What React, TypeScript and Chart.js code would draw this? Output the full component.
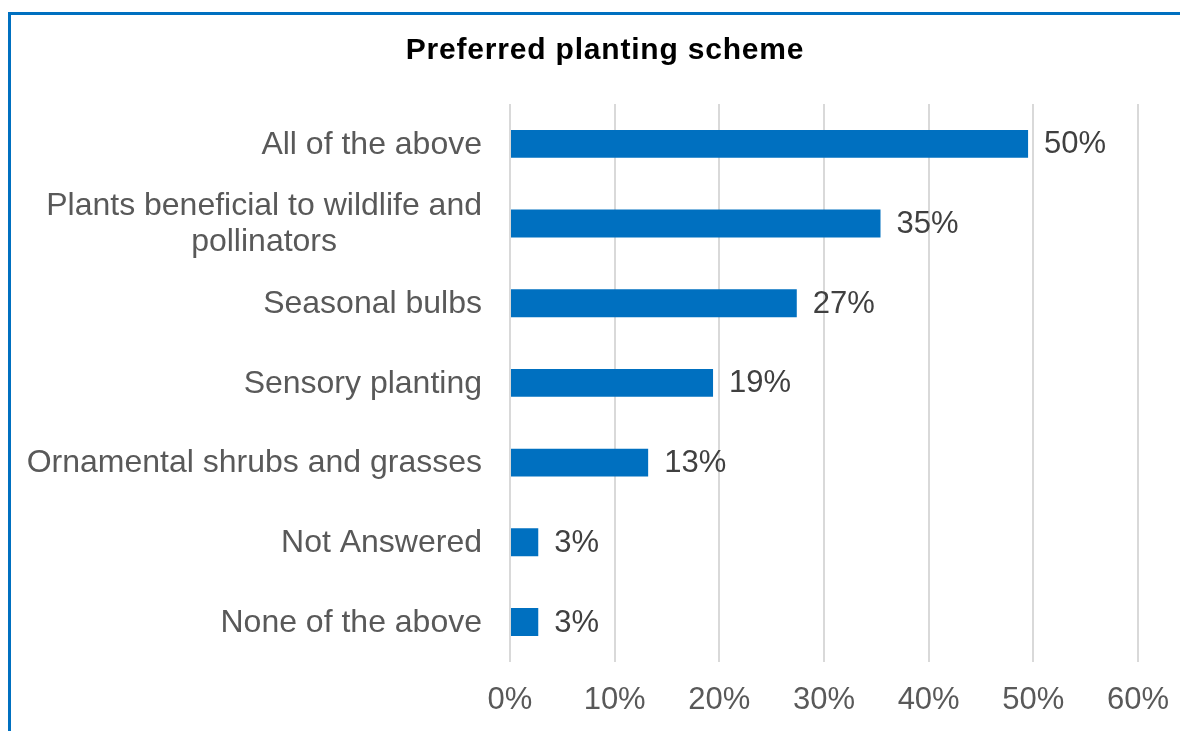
import React, { useEffect, useRef } from "react";
import { Chart, registerables } from "chart.js";

Chart.register(...registerables);

const titleText = "Preferred planting scheme";
const categories: string[][] = [
  ["All of the above"],
  ["Plants beneficial to wildlife and", "pollinators"],
  ["Seasonal bulbs"],
  ["Sensory planting"],
  ["Ornamental shrubs and grasses"],
  ["Not Answered"],
  ["None of the above"],
];
const values = [49.5, 35.4, 27.4, 19.4, 13.2, 2.7, 2.7];
const xTicks = [0, 10, 20, 30, 40, 50, 60];

const FONT = "Arial, 'Liberation Sans', sans-serif";
const BAR = "#0070C0";

const titlePlugin = {
  id: "customTitle",
  afterDraw(chart: any) {
    const ctx = chart.ctx;
    ctx.save();
    ctx.font = `bold 30px ${FONT}`;
    (ctx as any).letterSpacing = "0.8px";
    ctx.fillStyle = "#000000";
    ctx.textAlign = "center";
    ctx.textBaseline = "alphabetic";
    ctx.fillText(titleText, 594, 44);
    ctx.restore();
  },
};

const yLabelsPlugin = {
  id: "yLabels",
  afterDraw(chart: any) {
    const ctx = chart.ctx;
    const y = chart.scales.y;
    const right = chart.chartArea.left - 28;
    ctx.save();
    ctx.font = `32px ${FONT}`;
    ctx.fillStyle = "#595959";
    ctx.textBaseline = "middle";
    ctx.textAlign = "center";
    const lh = 36;
    categories.forEach((lines, i) => {
      const cy = y.getPixelForTick(i) + 1;
      const widest = Math.max(...lines.map((l) => ctx.measureText(l).width));
      const cx = right - widest / 2;
      const y0 = cy - ((lines.length - 1) * lh) / 2;
      lines.forEach((l, j) => ctx.fillText(l, cx, y0 + j * lh));
    });
    ctx.restore();
  },
};

const dataLabelPlugin = {
  id: "dataLabels",
  afterDatasetsDraw(chart: any) {
    const ctx = chart.ctx;
    const meta = chart.getDatasetMeta(0);
    ctx.save();
    ctx.font = `31px ${FONT}`;
    ctx.fillStyle = "#404040";
    ctx.textBaseline = "middle";
    ctx.textAlign = "left";
    meta.data.forEach((bar: any, i: number) => {
      ctx.fillText(Math.round(values[i]) + "%", bar.x + 16, bar.y + 1);
    });
    ctx.restore();
  },
};

export default function App() {
  const ref = useRef<HTMLCanvasElement>(null);
  useEffect(() => {
    if (!ref.current) return;
    const chart = new Chart(ref.current, {
      type: "bar",
      data: {
        labels: categories.map((c) => c.join(" ")),
        datasets: [
          {
            data: values,
            backgroundColor: BAR,
            barPercentage: 0.7,
            categoryPercentage: 0.5,
          },
        ],
      },
      options: {
        indexAxis: "y",
        animation: false,
        responsive: false,
        devicePixelRatio: 1,
        layout: { padding: { left: 14, right: 0, top: 89, bottom: 0 } },
        plugins: {
          legend: { display: false },
          tooltip: { enabled: false },
          title: { display: false },
        },
        scales: {
          x: {
            min: 0,
            max: 60,
            afterBuildTicks: (scale: any) => {
              scale.ticks = xTicks.map((v) => ({ value: v }));
            },
            ticks: {
              color: "#595959",
              font: { family: FONT, size: 31 },
              padding: 20,
              maxRotation: 0,
              callback: (v: any) => v + "%",
            },
            grid: { color: "#d9d9d9", lineWidth: 2, drawTicks: false },
            border: { display: false },
          },
          y: {
            ticks: { display: false },
            grid: { display: false },
            border: { display: false },
            afterFit: (scale: any) => {
              scale.width = 485;
            },
          },
        },
      },
      plugins: [yLabelsPlugin, dataLabelPlugin, titlePlugin],
    });
    return () => chart.destroy();
  }, []);
  return (
    <div
      style={{
        position: "fixed",
        top: 12,
        left: 8,
        borderTop: "3px solid #0070C0",
        borderLeft: "3px solid #0070C0",
        width: 1169,
        height: 716,
        overflow: "hidden",
        background: "#fff",
      }}
    >
      <canvas ref={ref} width={1178} height={724} style={{ display: "block" }} />
    </div>
  );
}
